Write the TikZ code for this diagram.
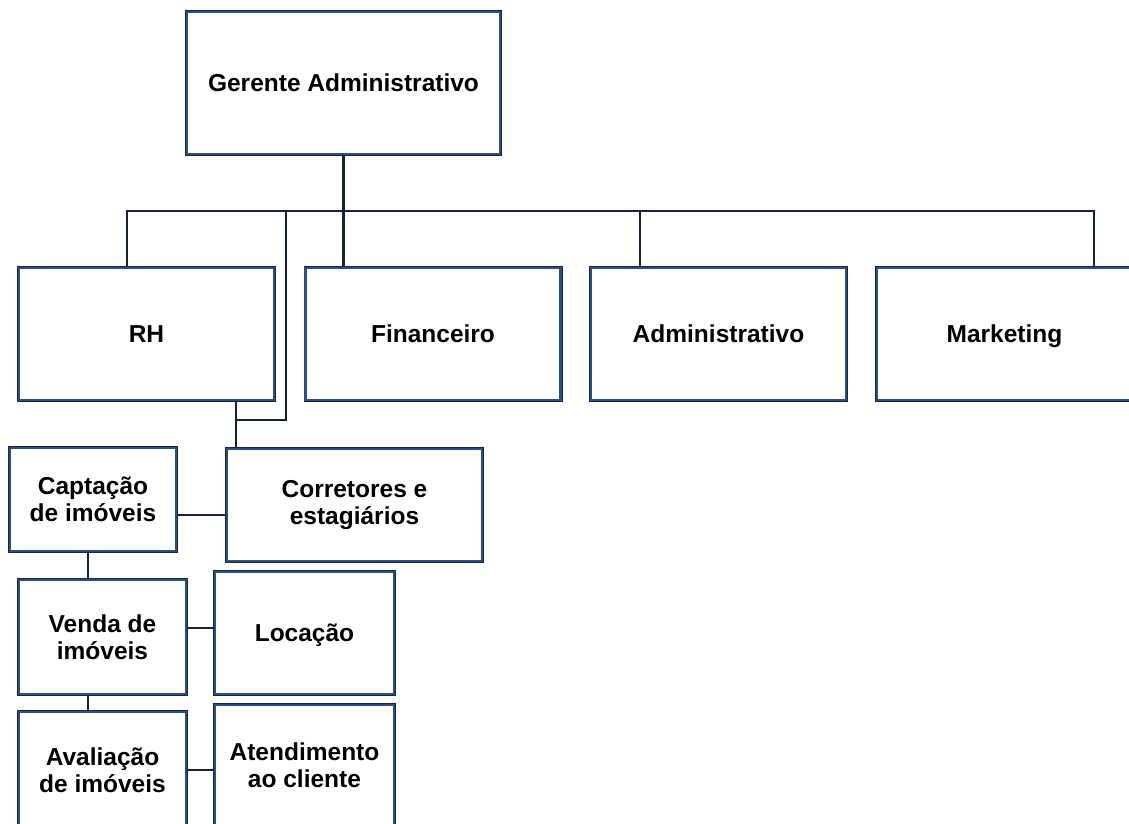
\documentclass[tikz,border=0pt]{standalone}
\usepackage{fontspec}
\setmainfont{Liberation Sans}
\usepackage{xcolor}
\usetikzlibrary{positioning,calc}

\definecolor{boxblue}{RGB}{42,78,135}
\definecolor{boxdark}{RGB}{24,36,58}
\definecolor{linkblue}{RGB}{20,34,58}

\begin{document}
\begin{tikzpicture}[
    x=1pt, y=-1pt,
    box/.style={rectangle, preaction={draw=boxdark, line width=4pt},
        draw=boxblue, line width=2.4pt, fill=white,
        align=center, inner sep=0pt,
        font=\fontsize{24.5}{27}\selectfont\bfseries},
    link/.style={draw=linkblue, line width=2.2pt}
]
\useasboundingbox (0,0) rectangle (1129,824);

% topo
\node[box, minimum width=313, minimum height=142] (ger) at (343.5,83) {Gerente Administrativo};

% departamentos
\node[box, minimum width=255, minimum height=132] (rh) at (146.5,334) {RH};
\node[box, minimum width=255, minimum height=132] (fin) at (433,334) {Financeiro};
\node[box, minimum width=255, minimum height=132] (adm) at (718.5,334) {Administrativo};
\node[box, minimum width=255, minimum height=132, text depth=0pt] (mkt) at (1004.5,334) {Marketing};

% setores
\node[box, minimum width=166, minimum height=103] (capt) at (93,499.5) {Captação\\de imóveis};
\node[box, minimum width=255, minimum height=112] (corr) at (354.5,505) {Corretores e\\estagiários};
\node[box, minimum width=167, minimum height=114] (venda) at (102.5,637) {Venda de\\imóveis};
\node[box, minimum width=179, minimum height=122, text depth=0pt] (loc) at (304.5,633) {Locação};
\node[box, minimum width=167, minimum height=116] (aval) at (102.5,770) {Avaliação\\de imóveis};
\node[box, minimum width=179, minimum height=120] (aten) at (304.5,765) {Atendimento\\ao cliente};

% barramento
\coordinate (bus) at (343.5,211);
\coordinate (knee) at (286,420);

\draw[link] (ger.south) -- (ger.south |- fin.north);
\draw[link] ([xshift=-19.5]rh.north) |- ([xshift=89.5]mkt.north |- bus) -- ([xshift=89.5]mkt.north);
\draw[link] ([xshift=-78.5]adm.north) -- ([xshift=-78.5]adm.north |- bus);

% RH -> corretores
\draw[link] ([xshift=89.5]rh.south) -- ([xshift=89.5]rh.south |- corr.north);
\draw[link] (knee |- bus) |- ([xshift=89.5]rh.south |- knee);

% ligacoes entre setores
\draw[link] ([yshift=-15.5]capt.east) -- ([yshift=-15.5]capt.east -| corr.west);
\draw[link] ([xshift=-5]capt.south) -- ([xshift=-5]capt.south |- venda.north);
\draw[link] ([yshift=9]venda.east) -- ([yshift=9]venda.east -| loc.west);
\draw[link] ([xshift=-14.5]venda.south) -- ([xshift=-14.5]venda.south |- aval.north);
\draw[link] (aval.east) -- (aval.east -| aten.west);

\end{tikzpicture}
\end{document}
